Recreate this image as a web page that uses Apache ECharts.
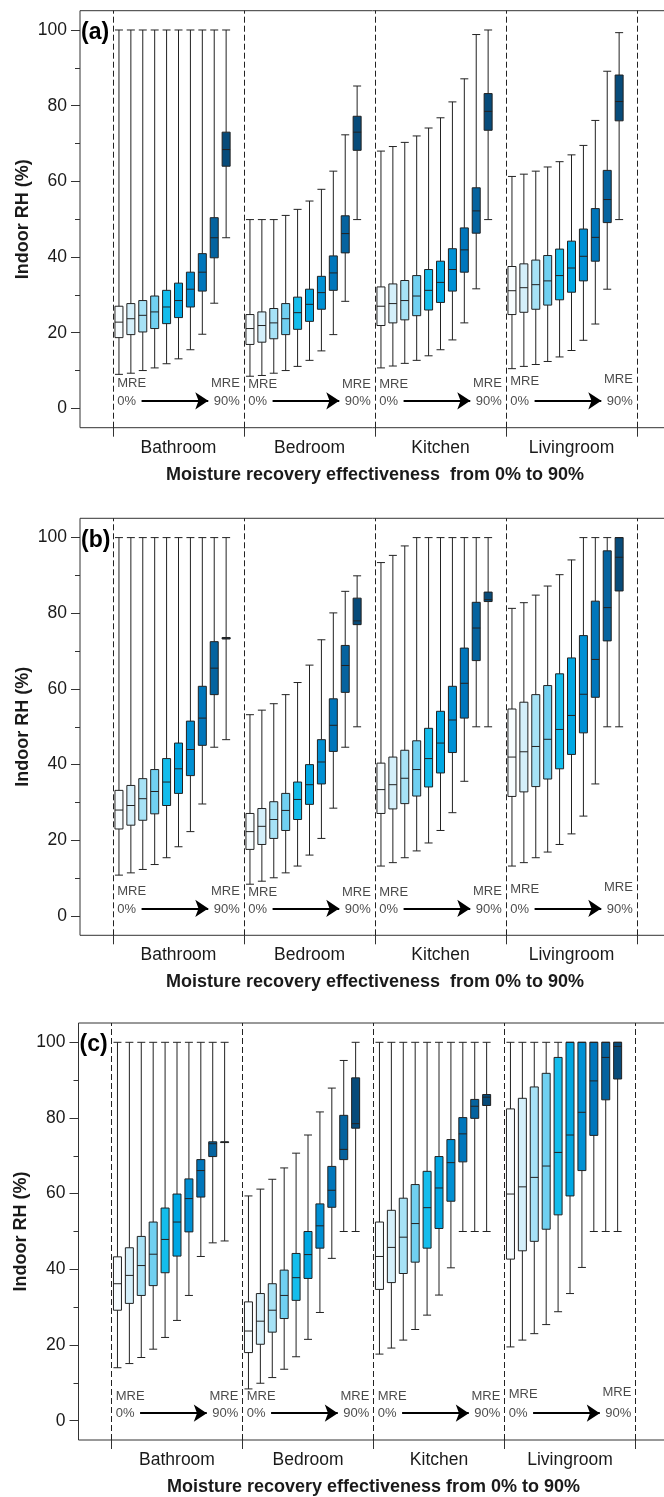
<!DOCTYPE html>
<html>
<head>
<meta charset="utf-8">
<title>Indoor RH by room and moisture recovery effectiveness</title>
<script src="https://cdn.jsdelivr.net/npm/echarts@6/dist/echarts.min.js"></script>
<style>
  html, body { margin: 0; padding: 0; background: #fff; }
  #chart { width: 664px; height: 1497px; }
</style>
</head>
<body>
<div id="chart"></div>
<script>
const rooms = ['Bathroom', 'Bedroom', 'Kitchen', 'Livingroom']
const mreSteps = ['0%', '10%', '20%', '30%', '40%', '50%', '60%', '70%', '80%', '90%']
const yTicks = [0, 20, 40, 60, 80, 100]
const yMinorTicks = [10, 30, 50, 70, 90]

// every box is [min, Q1, median, Q3, max] of indoor RH (%), MRE 0% -> 90%
// (a)
const aBathroom = [
  [9.0, 18.7, 22.8, 27.0, 100], [9.3, 19.5, 23.7, 27.7, 100], [10.0, 20.2, 24.6, 28.5, 100],
  [10.7, 21.1, 25.5, 29.7, 100], [11.8, 22.4, 26.8, 31.2, 100], [13.1, 24.0, 28.5, 33.1, 100],
  [15.5, 26.8, 31.5, 36.0, 100], [19.6, 31.0, 36.0, 40.9, 100], [27.8, 39.8, 45.1, 50.4, 100],
  [45.1, 64.0, 68.4, 73.0, 100]
]
const aBedroom = [
  [8.5, 16.9, 21.1, 24.8, 49.9], [8.7, 17.5, 21.9, 25.5, 49.9], [9.3, 18.4, 22.6, 26.4, 49.9],
  [10.0, 19.5, 23.7, 27.7, 51.0], [11.1, 20.9, 25.3, 29.4, 52.6], [12.7, 23.0, 27.5, 31.5, 54.8],
  [15.2, 26.2, 30.6, 34.9, 57.9], [19.5, 31.2, 35.8, 40.3, 62.7], [28.3, 41.1, 46.2, 50.9, 72.3],
  [49.9, 68.2, 73.0, 77.2, 85.2]
]
const aKitchen = [
  [10.7, 21.9, 27.0, 32.1, 68.0], [11.2, 22.6, 27.7, 32.9, 69.2], [11.9, 23.4, 28.5, 33.8, 70.3],
  [12.7, 24.5, 29.7, 35.1, 72.0], [13.9, 26.0, 31.2, 36.7, 74.1], [15.5, 28.0, 33.3, 38.9, 76.8],
  [18.1, 31.0, 36.7, 42.2, 81.0], [22.6, 36.0, 41.9, 47.7, 87.1], [31.6, 46.3, 52.2, 58.3, 98.8],
  [49.9, 73.5, 78.5, 83.2, 100]
]
const aLivingroom = [
  [10.5, 24.8, 31.1, 37.5, 61.3], [11.1, 25.4, 31.9, 38.2, 61.9], [11.6, 26.2, 32.7, 39.2, 62.7],
  [12.4, 27.3, 33.7, 40.4, 63.8], [13.6, 28.7, 35.1, 42.1, 65.2], [15.3, 30.7, 37.1, 44.2, 67.0],
  [18.0, 33.7, 40.2, 47.4, 69.5], [22.3, 38.9, 45.2, 52.8, 76.1], [31.5, 49.1, 55.2, 62.9, 89.1],
  [49.9, 76.0, 81.1, 88.1, 99.3]
]
// (b)
const bBathroom = [
  [10.8, 23.0, 28.0, 33.2, 100], [11.4, 24.0, 29.2, 34.5, 100], [12.3, 25.3, 31.0, 36.3, 100],
  [13.6, 27.0, 32.9, 38.7, 100], [15.4, 29.2, 35.4, 41.6, 100], [18.3, 32.4, 38.9, 45.7, 100],
  [22.3, 37.1, 44.0, 51.5, 100], [29.6, 45.1, 52.3, 60.7, 100], [44.6, 58.5, 65.5, 72.5, 100],
  [46.6, 73.2, 73.4, 73.6, 100]
]
const bBedroom = [
  [8.4, 17.6, 22.3, 27.1, 53.2], [9.2, 18.9, 23.7, 28.4, 54.4], [10.1, 20.5, 25.5, 30.2, 56.1],
  [11.4, 22.6, 27.9, 32.4, 58.5], [13.2, 25.5, 30.8, 35.4, 61.7], [16.1, 29.5, 34.7, 40.0, 66.3],
  [20.5, 34.9, 40.7, 46.6, 73.0], [28.5, 43.5, 50.4, 57.4, 80.1], [44.6, 59.1, 66.2, 71.5, 85.8],
  [50.0, 77.0, 78.0, 84.0, 89.9]
]
const bKitchen = [
  [13.2, 27.1, 33.4, 40.4, 93.4], [14.1, 28.3, 34.7, 42.0, 95.3], [15.4, 29.7, 36.4, 43.8, 97.8],
  [17.2, 31.7, 38.7, 46.3, 100], [19.3, 34.1, 41.6, 49.6, 100], [22.6, 37.8, 45.7, 54.1, 100],
  [27.3, 43.2, 51.8, 60.7, 100], [35.6, 52.3, 61.5, 70.8, 100], [50.0, 67.5, 76.1, 82.9, 100],
  [50.0, 83.1, 83.6, 85.6, 100]
]
const bLivingroom = [
  [13.2, 31.6, 42.0, 54.7, 81.3], [14.1, 32.8, 43.4, 56.5, 82.8], [15.4, 34.2, 44.8, 58.5, 84.8],
  [16.9, 36.2, 46.7, 60.9, 87.2], [18.9, 38.9, 49.3, 64.0, 90.2], [21.7, 42.7, 53.0, 68.2, 94.1],
  [26.4, 48.4, 58.6, 74.1, 100], [34.9, 57.8, 67.8, 83.2, 100], [50.0, 72.7, 81.5, 96.5, 100],
  [50.0, 85.9, 94.8, 100, 100]
]
// (c)
const cBathroom = [
  [14.0, 29.2, 36.2, 43.3, 100], [15.1, 31.0, 38.4, 45.7, 100], [16.7, 33.1, 41.0, 48.7, 100],
  [18.9, 35.7, 44.0, 52.5, 100], [22.0, 39.1, 47.9, 56.2, 100], [26.5, 43.5, 52.5, 59.9, 100],
  [33.1, 49.9, 58.7, 63.9, 100], [43.4, 59.1, 66.1, 69.0, 100], [47.0, 69.8, 73.2, 73.7, 100],
  [47.5, 73.5, 73.6, 73.7, 100]
]
const cBedroom = [
  [8.4, 18.0, 23.7, 31.4, 59.4], [9.9, 20.2, 26.3, 33.6, 61.2], [11.4, 23.4, 29.2, 36.2, 63.8],
  [13.6, 27.0, 33.1, 39.8, 66.8], [16.9, 31.8, 37.8, 44.2, 70.7], [21.5, 37.6, 43.9, 50.0, 75.5],
  [28.6, 45.6, 51.5, 57.3, 81.6], [42.9, 56.4, 60.9, 67.2, 87.9], [50.0, 69.0, 71.7, 80.7, 95.2],
  [50.0, 77.3, 78.5, 90.6, 100]
]
const cKitchen = [
  [17.6, 34.7, 43.4, 52.5, 100], [19.2, 36.5, 45.8, 55.6, 100], [21.3, 38.9, 48.5, 58.8, 100],
  [24.1, 41.9, 52.1, 62.4, 100], [27.9, 45.6, 56.3, 65.9, 100], [33.2, 50.8, 61.5, 69.8, 100],
  [40.4, 58.0, 68.2, 74.3, 100], [50.0, 68.4, 75.8, 80.1, 100], [50.0, 79.9, 83.1, 84.9, 100],
  [50.0, 83.3, 85.5, 86.2, 100]
]
const cLivingroom = [
  [19.5, 42.7, 59.9, 82.4, 100], [21.3, 44.9, 61.8, 85.2, 100], [23.0, 47.4, 64.3, 88.2, 100],
  [25.4, 50.6, 67.3, 91.8, 100], [28.8, 54.4, 70.9, 96.0, 100], [33.6, 59.4, 75.5, 100, 100],
  [40.5, 66.1, 81.5, 100, 100], [50.0, 75.4, 89.8, 100, 100], [50.0, 84.8, 96.0, 100, 100],
  [50.0, 90.3, 98.9, 100, 100]
]

const boxColors = ['#f7fcfe', '#d4effa', '#a6e2f6', '#70d0f1', '#14bdec',
  '#00a7e3', '#0090d4', '#0076bb', '#05639f', '#074b7a']

const FONT = "'Liberation Sans', Arial, sans-serif"
const INK = '#1a1a1a'
const SLOTS = 11 // 10 boxes + 1 empty slot per room
const Y_MIN = -5.1
const Y_MAX = 105.1

const panels = [
  { tag: '(a)', top: 10.7, shift: 0, data: [aBathroom, aBedroom, aKitchen, aLivingroom],
    xName: 'Moisture recovery effectiveness  from 0% to 90%' },
  { tag: '(b)', top: 518.3, shift: 0, data: [bBathroom, bBedroom, bKitchen, bLivingroom],
    xName: 'Moisture recovery effectiveness  from 0% to 90%' },
  { tag: '(c)', top: 1023, shift: -1.5, data: [cBathroom, cBedroom, cKitchen, cLivingroom],
    xName: 'Moisture recovery effectiveness from 0% to 90%' }
]

// category slots: one per box plus a blank slot after each room
const slots = []
rooms.forEach(room => {
  mreSteps.forEach(m => slots.push(room + '|' + m))
  slots.push(room + '|gap')
})

// where the MRE notes sit inside each room, in slot units
const noteLeftX = 0.35
const noteRightX = 10.65
const arrowFromX = 2.4
const arrowToX = 8.0
const mreLeftY = [6.5, 6.3, 6.3, 7.0]
const mreRightY = [6.5, 6.3, 6.5, 7.6]
const pctY = 1.8
const arrowY = 2.0

const grids = []
const xAxes = []
const yAxes = []
const series = []
const titles = []

panels.forEach((p, i) => {
  const height = 417
  // frame grid: border, y axis, notes (right edge runs past the page like the source)
  grids.push({ left: 80 + p.shift, top: p.top, width: 590, height, outerBoundsMode: 'none',
    show: true, borderColor: '#333', borderWidth: 1, backgroundColor: 'transparent' })
  // box grid: spans from first to last room separator
  grids.push({ left: 113 + p.shift, top: p.top, width: 524, height, outerBoundsMode: 'none' })

  xAxes.push({ type: 'value', gridIndex: 2 * i, min: -2.77, max: 46.77, show: false,
    axisLine: { onZero: false } })
  xAxes.push({
    type: 'category', gridIndex: 2 * i + 1, data: slots, boundaryGap: true, position: 'bottom',
    axisLine: { show: false, onZero: false },
    axisTick: { show: true, interval: idx => idx % SLOTS === 0, length: 9,
      lineStyle: { color: '#333', width: 1 } },
    axisLabel: { interval: idx => idx % SLOTS === 5, formatter: v => v.split('|')[0],
      margin: 11, fontSize: 17.5, color: INK, fontFamily: FONT },
    name: p.xName, nameLocation: 'middle', nameGap: 38, nameMoveOverlap: false,
    nameTextStyle: { fontSize: 18, fontWeight: 'bold', color: INK, fontFamily: FONT }
  })

  yAxes.push({
    type: 'value', gridIndex: 2 * i, min: Y_MIN, max: Y_MAX, position: 'left',
    axisLine: { show: false, onZero: false }, splitLine: { show: false },
    axisTick: { show: true, customValues: yTicks, length: 9, lineStyle: { color: '#333' } },
    axisLabel: { show: true, customValues: yTicks, margin: 13, fontSize: 17.5, color: INK, fontFamily: FONT },
    name: 'Indoor RH (%)', nameLocation: 'middle', nameGap: 48, nameMoveOverlap: false,
    nameTextStyle: { fontSize: 18, fontWeight: 'bold', color: INK, fontFamily: FONT }
  })
  yAxes.push({
    type: 'value', gridIndex: 2 * i, min: Y_MIN, max: Y_MAX, position: 'left',
    axisLine: { show: false, onZero: false }, splitLine: { show: false },
    axisTick: { show: true, customValues: yMinorTicks, length: 5, lineStyle: { color: '#333' } },
    axisLabel: { show: false }
  })
  yAxes.push({ type: 'value', gridIndex: 2 * i + 1, min: Y_MIN, max: Y_MAX, show: false,
    axisLine: { onZero: false } })

  const boxData = []
  p.data.forEach(roomBoxes => {
    roomBoxes.forEach((b, k) => boxData.push({ value: b, itemStyle: { color: boxColors[k] } }))
    boxData.push({ value: ['-', '-', '-', '-', '-'] })
  })
  series.push({
    type: 'boxplot', xAxisIndex: 2 * i + 1, yAxisIndex: 3 * i + 2,
    boxWidth: [8, 8], silent: true, data: boxData,
    itemStyle: { borderColor: '#222', borderWidth: 1 }
  })

  const notes = []
  const arrows = []
  rooms.forEach((room, r) => {
    const x0 = r * SLOTS
    notes.push({ value: [x0 + noteLeftX, mreLeftY[r]], label: { formatter: 'MRE', align: 'left' } })
    notes.push({ value: [x0 + noteLeftX, pctY], label: { formatter: mreSteps[0], align: 'left' } })
    notes.push({ value: [x0 + noteRightX, mreRightY[r]], label: { formatter: 'MRE', align: 'right' } })
    notes.push({ value: [x0 + noteRightX, pctY], label: { formatter: mreSteps[9], align: 'right' } })
    arrows.push({ coords: [[x0 + arrowFromX, arrowY], [x0 + arrowToX, arrowY]] })
  })
  series.push({
    type: 'scatter', xAxisIndex: 2 * i, yAxisIndex: 3 * i, silent: true,
    symbolSize: 0, itemStyle: { color: 'rgba(0,0,0,0)' },
    label: { show: true, position: 'inside', verticalAlign: 'middle',
      fontSize: 13, color: INK, fontFamily: FONT },
    data: notes,
    markLine: {
      silent: true, symbol: 'none', label: { show: false },
      lineStyle: { color: '#222', width: 1, type: [6, 3] },
      data: [0, 1, 2, 3, 4].map(r => ({ xAxis: r * SLOTS }))
    }
  })
  series.push({
    type: 'lines', coordinateSystem: 'cartesian2d', xAxisIndex: 2 * i, yAxisIndex: 3 * i,
    silent: true, symbol: ['none', 'arrow'], symbolSize: [8, 13],
    lineStyle: { color: '#000', width: 2, opacity: 1 },
    data: arrows
  })

  titles.push({ text: p.tag, left: 81 + p.shift, top: p.top + 10.5, padding: 0,
    textStyle: { fontSize: 23, fontWeight: 'bold', color: '#000', fontFamily: FONT } })
})

const chart = echarts.init(document.getElementById('chart'), null, { renderer: 'canvas' })
chart.setOption({
  animation: false,
  backgroundColor: '#fff',
  title: titles,
  grid: grids,
  xAxis: xAxes,
  yAxis: yAxes,
  series
})
</script>
</body>
</html>
